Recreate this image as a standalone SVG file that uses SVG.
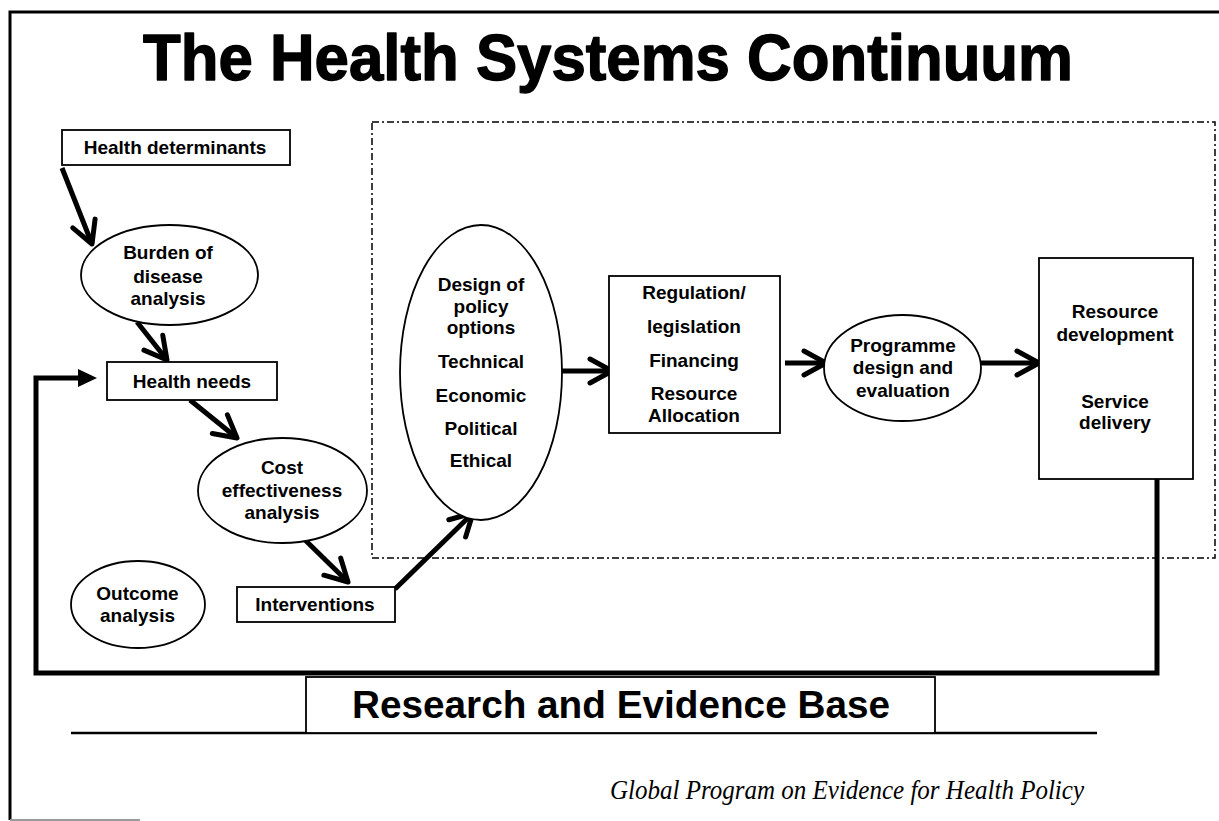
<svg xmlns="http://www.w3.org/2000/svg" width="1219" height="821" viewBox="0 0 1219 821">
  <defs>
    <style>
      .box { fill: #ffffff; stroke: #000000; stroke-width: 1.8; }
      .lbl { font-family: "Liberation Sans", Arial, Helvetica, sans-serif; font-weight: bold; font-size: 19px; fill: #000000; text-anchor: middle; }
      .flow { fill: none; stroke: #000000; stroke-width: 5; marker-end: url(#chevron); }
      .loop { fill: none; stroke: #000000; stroke-width: 5; }
    </style>
    <!-- open chevron arrowhead used on every flow arrow -->
    <marker id="chevron" markerUnits="userSpaceOnUse" markerWidth="40" markerHeight="40" viewBox="-30 -20 40 40" refX="0" refY="0" orient="auto" overflow="visible">
      <path d="M-22,-12 L0,0 L-22,12" fill="none" stroke="#000000" stroke-width="5" stroke-linecap="round" stroke-linejoin="round"/>
    </marker>
  </defs>

  <rect x="0" y="0" width="1219" height="821" fill="#ffffff"/>

  <!-- page frame -->
  <path d="M1219,12 H10 V820" fill="none" stroke="#000000" stroke-width="3"/>
  <line x1="10" y1="820" x2="140" y2="820" stroke="#9a9a9a" stroke-width="2"/>

  <!-- title -->
  <text x="143" y="80" font-family="'Liberation Sans', Arial, Helvetica, sans-serif" font-weight="bold" font-size="64" stroke="#000000" stroke-width="1.4" stroke-linejoin="round" textLength="930" lengthAdjust="spacingAndGlyphs">The Health Systems Continuum</text>

  <!-- policy zone -->
  <rect id="policy-zone" x="372" y="122" width="843" height="436" fill="none" stroke="#000000" stroke-width="1.5" stroke-dasharray="7 3 2 3"/>

  <!-- connectors -->
  <g id="connectors">
    <line class="flow" x1="62" y1="168" x2="92" y2="244"/>
    <line class="flow" x1="137" y1="322" x2="167" y2="360"/>
    <line class="flow" x1="190" y1="400" x2="237" y2="438"/>
    <line class="flow" x1="302" y1="537" x2="348" y2="582"/>
    <line class="flow" x1="395" y1="589" x2="473" y2="513"/>
    <line class="flow" x1="562" y1="371" x2="612" y2="371"/>
    <line class="flow" x1="785" y1="363" x2="826" y2="363"/>
    <line class="flow" x1="981" y1="363" x2="1039" y2="363"/>
    <!-- feedback loop from service delivery back to health needs -->
    <path class="loop" d="M1157,479 V673 H36 V378 H80"/>
    <polygon points="78,369 97,378 78,387" fill="#000000"/>
  </g>

  <g id="health-determinants">
    <rect class="box" x="62" y="130" width="228" height="35"/>
    <text class="lbl" x="175" y="154">Health determinants</text>
  </g>

  <g id="burden-of-disease">
    <ellipse class="box" cx="169.5" cy="275" rx="88.5" ry="50"/>
    <text class="lbl" x="168" y="259">Burden of</text>
    <text class="lbl" x="168" y="283">disease</text>
    <text class="lbl" x="168" y="305">analysis</text>
  </g>

  <g id="health-needs">
    <rect class="box" x="107" y="362" width="170" height="38"/>
    <text class="lbl" x="192" y="388">Health needs</text>
  </g>

  <g id="cost-effectiveness">
    <ellipse class="box" cx="282.5" cy="490.5" rx="84.5" ry="52.5"/>
    <text class="lbl" x="282" y="474">Cost</text>
    <text class="lbl" x="282" y="497">effectiveness</text>
    <text class="lbl" x="282" y="519">analysis</text>
  </g>

  <g id="interventions">
    <rect class="box" x="237" y="587" width="158" height="35"/>
    <text class="lbl" x="315" y="611">Interventions</text>
  </g>

  <g id="outcome-analysis">
    <ellipse class="box" cx="138" cy="604.5" rx="67" ry="43.5"/>
    <text class="lbl" x="137.5" y="600">Outcome</text>
    <text class="lbl" x="137.5" y="622">analysis</text>
  </g>

  <g id="policy-options">
    <ellipse class="box" cx="481" cy="372.5" rx="81" ry="147.5"/>
    <text class="lbl" x="481" y="291">Design of</text>
    <text class="lbl" x="481" y="313">policy</text>
    <text class="lbl" x="481" y="334">options</text>
    <text class="lbl" x="481" y="368">Technical</text>
    <text class="lbl" x="481" y="402">Economic</text>
    <text class="lbl" x="481" y="435">Political</text>
    <text class="lbl" x="481" y="467">Ethical</text>
  </g>

  <g id="regulation">
    <rect class="box" x="609" y="276" width="171" height="157"/>
    <text class="lbl" x="694" y="299">Regulation/</text>
    <text class="lbl" x="694" y="333">legislation</text>
    <text class="lbl" x="694" y="367">Financing</text>
    <text class="lbl" x="694" y="400">Resource</text>
    <text class="lbl" x="694" y="422">Allocation</text>
  </g>

  <g id="programme">
    <ellipse class="box" cx="902.5" cy="368" rx="78.5" ry="53"/>
    <text class="lbl" x="903" y="352">Programme</text>
    <text class="lbl" x="903" y="374">design and</text>
    <text class="lbl" x="903" y="397">evaluation</text>
  </g>

  <g id="resource-service">
    <rect class="box" x="1039" y="258" width="154" height="221"/>
    <text class="lbl" x="1115" y="318">Resource</text>
    <text class="lbl" x="1115" y="341">development</text>
    <text class="lbl" x="1115" y="408">Service</text>
    <text class="lbl" x="1115" y="429">delivery</text>
  </g>

  <g id="evidence-base">
    <line x1="71" y1="733" x2="1097" y2="733" stroke="#000000" stroke-width="2.5"/>
    <rect class="box" x="306" y="677" width="629" height="56"/>
    <text x="352" y="718" font-family="'Liberation Sans', Arial, Helvetica, sans-serif" font-weight="bold" font-size="38.5" textLength="538" lengthAdjust="spacingAndGlyphs">Research and Evidence Base</text>
  </g>

  <text x="610" y="799" font-family="'Liberation Serif', 'Times New Roman', serif" font-style="italic" font-size="28" textLength="474" lengthAdjust="spacingAndGlyphs">Global Program on Evidence for Health Policy</text>
</svg>
